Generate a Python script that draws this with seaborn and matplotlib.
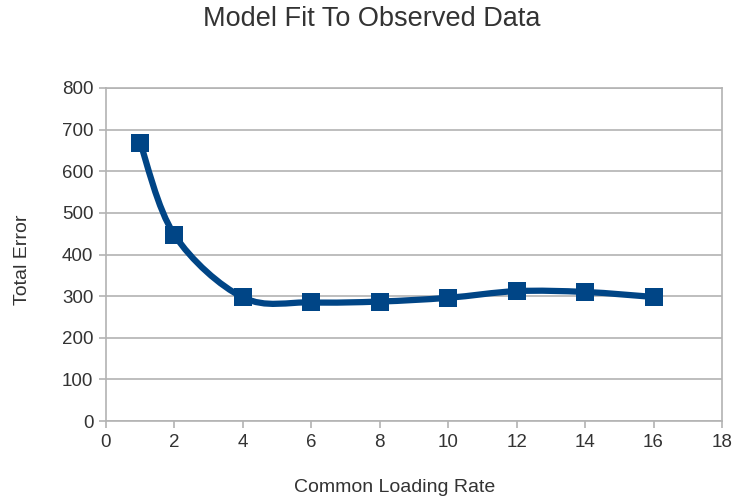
import numpy as np
import pandas as pd
import matplotlib
matplotlib.use("Agg")
import matplotlib.pyplot as plt
from matplotlib.path import Path
from matplotlib.patches import PathPatch
import seaborn as sns

loading_rate = [1, 2, 4, 6, 8, 10, 12, 14, 16]
total_error = [668, 447, 297, 285, 287, 296, 312, 310, 298]
x_ticks = [0, 2, 4, 6, 8, 10, 12, 14, 16, 18]
y_ticks = [0, 100, 200, 300, 400, 500, 600, 700, 800]

sns.set_theme(style="white")
plt.rcParams['font.family'] = ['Liberation Sans', 'DejaVu Sans']

df = pd.DataFrame({"Common Loading Rate": loading_rate, "Total Error": total_error})

fig = plt.figure(figsize=(7.34, 4.98), dpi=100)
ax = fig.add_axes([0.1444, 0.1546, 0.8392, 0.6687])

color = "#004586"
grid_c = "#b3b3b3"
text_c = "#333333"

# smooth curve (Catmull-Rom converted to cubic Bezier segments)
pts = np.column_stack([np.array(loading_rate, float), np.array(total_error, float)])
n = len(pts)
verts = [tuple(pts[0])]
codes = [Path.MOVETO]
for i in range(n - 1):
    p0 = pts[i - 1] if i > 0 else pts[i]
    p1 = pts[i]
    p2 = pts[i + 1]
    p3 = pts[i + 2] if i + 2 < n else pts[i + 1]
    c1 = p1 + (p2 - p0) / 6.0
    c2 = p2 - (p3 - p1) / 6.0
    verts += [tuple(c1), tuple(c2), tuple(p2)]
    codes += [Path.CURVE4] * 3
path = Path(verts, codes)
ax.add_patch(PathPatch(path, facecolor="none", edgecolor=color, lw=4.5,
                       capstyle="round", joinstyle="round", zorder=3))

sns.scatterplot(data=df, x="Common Loading Rate", y="Total Error", marker="s",
                s=150, color=color, edgecolor=color, linewidth=0, ax=ax, zorder=4)

ax.set_xlim(0, 18)
ax.set_ylim(0, 800)
ax.set_xticks(x_ticks)
ax.set_yticks(y_ticks)
ax.yaxis.grid(True, color=grid_c, lw=1.2)
ax.xaxis.grid(False)
for s in ax.spines.values():
    s.set_color(grid_c)
    s.set_linewidth(1.2)
ax.tick_params(axis="both", which="both", length=5, width=1.2, color=grid_c,
               labelsize=13.5, labelcolor=text_c, direction="out",
               bottom=True, left=True, pad=4)
ax.set_xlabel("")
ax.set_ylabel("")
fig.text(0.538, 0.022, "Common Loading Rate", fontsize=14, color=text_c,
         ha="center", va="center")
fig.text(0.030, 0.478, "Total Error", fontsize=14, color=text_c,
         ha="center", va="center", rotation=90)
fig.text(0.507, 0.962, "Model Fit To Observed Data", fontsize=19.5, color=text_c,
         ha="center", va="center")

fig.savefig("out.png", dpi=100)
